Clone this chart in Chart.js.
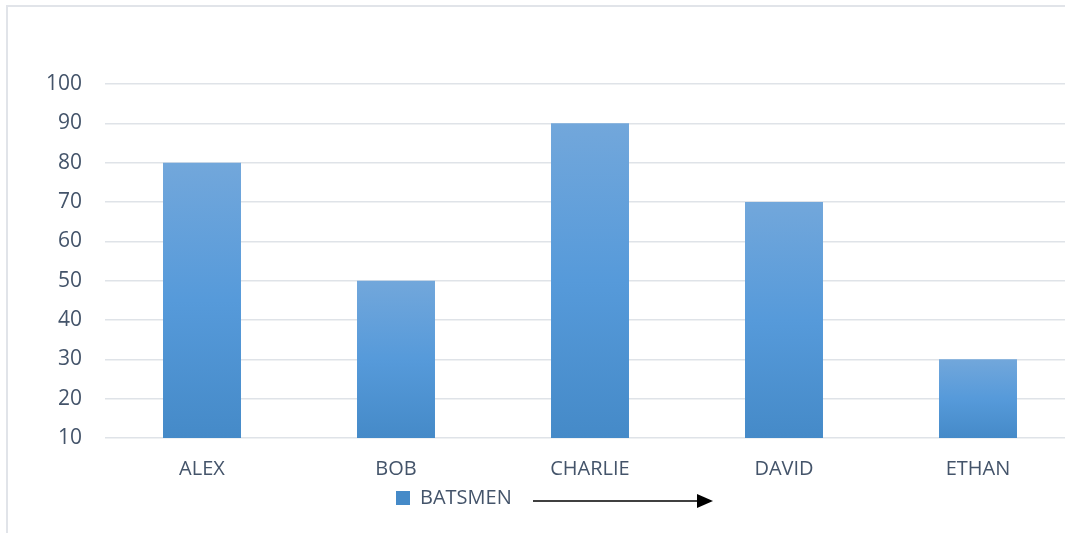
<!DOCTYPE html>
<html>
<head>
<meta charset="utf-8">
<title>Batsmen</title>
<script src="https://cdn.jsdelivr.net/npm/chart.js@4/dist/chart.umd.min.js"></script>
<style>
  html, body { margin: 0; padding: 0; background: #fff; overflow: hidden; }
  #frame {
    position: absolute; left: 6px; top: 5px; width: 1200px; height: 700px;
    border-left: 2px solid #e1e4e9; border-top: 2px solid #e1e4e9;
  }
  #chart { position: absolute; left: 0; top: 0; }
</style>
</head>
<body>
<div id="frame"></div>
<canvas id="chart" width="1080" height="533"></canvas>
<script>
const players = ['ALEX', 'BOB', 'CHARLIE', 'DAVID', 'ETHAN'];
const runs = [80, 50, 90, 70, 30];
const seriesName = 'BATSMEN';
const yMin = 10;
const yMax = 100;
const yStep = 10;

const textColor = '#44546a';
const font = { family: '"Open Sans", "Liberation Sans", sans-serif', size: 20 };
const tickFont = { family: '"Open Sans", "Liberation Sans", sans-serif', size: 21 };

function barFill(ctx) {
    const chart = ctx.chart;
    if (!chart.chartArea || ctx.type !== 'data') return '#5b9bd5';
    const y = chart.scales.y;
    const top = y.getPixelForValue(ctx.raw);
    const bottom = y.getPixelForValue(y.min);
    const g = chart.ctx.createLinearGradient(0, top, 0, bottom);
    g.addColorStop(0, '#72a7db');
    g.addColorStop(0.5, '#569ada');
    g.addColorStop(1, '#458ac8');
    return g;
}

// nudge the legend to where it sits in the picture
const legendShift = {
    id: 'legendShift',
    afterLayout(chart) {
        const lg = chart.legend;
        const w = lg.right - lg.left;
        const h = lg.bottom - lg.top;
        lg.left = 386;
        lg.right = 386 + w;
        lg.top = 478;
        lg.bottom = 478 + h;
    }
};

// the hand-drawn arrow under the chart
const arrow = {
    id: 'arrow',
    afterDraw(chart) {
        const c = chart.ctx;
        const y = 501;
        c.save();
        c.strokeStyle = '#000';
        c.fillStyle = '#000';
        c.lineWidth = 1.5;
        c.beginPath();
        c.moveTo(533, y);
        c.lineTo(699, y);
        c.stroke();
        c.beginPath();
        c.moveTo(713, y);
        c.lineTo(697, y - 7);
        c.lineTo(697, y + 7);
        c.closePath();
        c.fill();
        c.restore();
    }
};

new Chart(document.getElementById('chart').getContext('2d'), {
    type: 'bar',
    data: {
        labels: players,
        datasets: [{
            label: seriesName,
            data: runs,
            backgroundColor: barFill,
            borderWidth: 0,
            barPercentage: 0.402,
            categoryPercentage: 1
        }]
    },
    options: {
        responsive: false,
        animation: false,
        devicePixelRatio: 1,
        layout: { padding: { top: 84, right: 5, bottom: 0, left: 0 } },
        plugins: {
            tooltip: { enabled: false },
            legend: {
                position: 'bottom',
                align: 'start',
                labels: {
                    boxWidth: 14,
                    boxHeight: 14,
                    padding: 10,
                    color: textColor,
                    font: font
                }
            }
        },
        scales: {
            x: {
                grid: { display: false },
                border: { display: false },
                ticks: { color: textColor, font: font, padding: 11 },
                afterFit: s => { s.height = 55; }
            },
            y: {
                min: yMin,
                max: yMax,
                grid: { color: '#dfe3e8', lineWidth: 1.5, drawTicks: false },
                border: { display: false },
                ticks: { stepSize: yStep, color: textColor, font: tickFont, padding: 23 },
                afterFit: s => { s.width = 105; }
            }
        }
    },
    plugins: [legendShift, arrow]
});
</script>
</body>
</html>
